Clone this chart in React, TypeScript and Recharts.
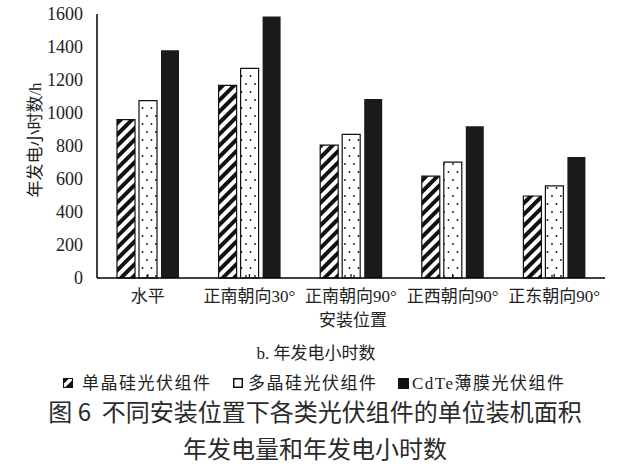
import React from 'react';
import { BarChart, Bar, XAxis, YAxis } from 'recharts';

const categories = ['水平', '正南朝向30°', '正南朝向90°', '正西朝向90°', '正东朝向90°'];
const monoSi = [960, 1168, 805, 617, 497];
const polySi = [1075, 1270, 870, 702, 558];
const cdte = [1380, 1585, 1085, 920, 733];
const yTicks = [0, 200, 400, 600, 800, 1000, 1200, 1400, 1600];

const seriesNames = ['单晶硅光伏组件', '多晶硅光伏组件', 'CdTe薄膜光伏组件'];

const data = categories.map((name, i) => ({
    name,
    mono: monoSi[i],
    poly: polySi[i],
    cdte: cdte[i],
}));

const serif = "'Liberation Serif', 'Noto Sans CJK SC', serif";
const sans = "'Noto Sans CJK SC', sans-serif";
const ink = '#222';

// own tick renderers so the serif face is really used
const XTick = (props: any) => {
    const { x, payload } = props;
    return (
        <text x={x} y={302} textAnchor="middle" fill={ink} fontSize={17} style={{ fontFamily: serif }}>
            {payload.value}
        </text>
    );
};

const YTick = (props: any) => {
    const { x, y, payload } = props;
    return (
        <text x={x} y={y + 6} textAnchor="end" fill={ink} fontSize={18} style={{ fontFamily: serif }}>
            {payload.value}
        </text>
    );
};

const LegendSwatch: React.FC<{ kind: number }> = ({ kind }) => {
    if (kind === 0) {
        return (
            <svg width={10} height={10} style={{ display: 'block' }}>
                <rect x={0.5} y={0.5} width={9} height={9} fill="#fff" stroke="#111" />
                <polygon points="2,9.5 9.5,2 9.5,9.5" fill="#111" />
                <polygon points="0.5,6 6,0.5 0.5,0.5" fill="#111" />
            </svg>
        );
    }
    if (kind === 1) {
        return (
            <svg width={10} height={10} style={{ display: 'block' }}>
                <rect x={0.75} y={0.75} width={8.5} height={8.5} fill="#fff" stroke="#111" strokeWidth={1.5} />
            </svg>
        );
    }
    return (
        <svg width={11} height={11} style={{ display: 'block' }}>
            <rect x={0} y={0} width={11} height={11} fill="#111" />
        </svg>
    );
};

const legendPos = [
    { sw: 63, txt: 82 },
    { sw: 233, txt: 248 },
    { sw: 398, txt: 412 },
];

const App: React.FC = () => {
    return (
        <div style={{ position: 'absolute', left: 0, top: 0, width: 635, height: 472, background: '#fff', color: ink, fontFamily: serif }}>
            <BarChart
                width={635}
                height={472}
                data={data}
                margin={{ top: 14, right: 30, left: 0, bottom: 164 }}
                barSize={18}
                barGap={4}
            >
                <defs>
                    <pattern id="hatch" patternUnits="userSpaceOnUse" width={8} height={8} patternTransform="rotate(45)">
                        <rect x={0} y={0} width={8} height={8} fill="#fff" />
                        <rect x={0} y={0} width={4} height={8} fill="#111" />
                    </pattern>
                    <pattern id="dots" patternUnits="userSpaceOnUse" width={9} height={16}>
                        <rect x={0} y={0} width={9} height={16} fill="#fff" />
                        <circle cx={3} cy={4} r={0.9} fill="#111" />
                        <circle cx={7.5} cy={12} r={0.9} fill="#111" />
                    </pattern>
                </defs>
                <XAxis
                    dataKey="name"
                    height={30}
                    axisLine={{ stroke: '#000', strokeWidth: 1.5 }}
                    tickLine={{ stroke: '#000', strokeWidth: 1.2 }}
                    tickSize={-4}
                    tickMargin={10}
                    interval={0}
                    tick={<XTick />}
                />
                <YAxis
                    width={97}
                    domain={[0, 1600]}
                    ticks={yTicks}
                    axisLine={{ stroke: '#000', strokeWidth: 1.5 }}
                    tickLine={false}
                    tickSize={0}
                    tickMargin={14}
                    tick={<YTick />}
                />
                <Bar dataKey="mono" fill="url(#hatch)" stroke="#111" strokeWidth={1.2} isAnimationActive={false} />
                <Bar dataKey="poly" fill="url(#dots)" stroke="#111" strokeWidth={1.2} isAnimationActive={false} />
                <Bar dataKey="cdte" fill="#1a1a1a" isAnimationActive={false} />
            </BarChart>

            {/* y axis title */}
            <div style={{
                position: 'absolute', left: 35, top: 140, transform: 'translate(-50%, -50%) rotate(-90deg)',
                whiteSpace: 'nowrap', fontSize: 17, lineHeight: 1, fontFamily: serif,
            }}>
                年发电小时数/h
            </div>

            {/* x axis title */}
            <div style={{
                position: 'absolute', left: 353, top: 320, transform: 'translate(-50%, -50%)',
                whiteSpace: 'nowrap', fontSize: 17, lineHeight: 1, fontFamily: serif,
            }}>
                安装位置
            </div>

            <div style={{
                position: 'absolute', left: 316, top: 353, transform: 'translate(-50%, -50%)',
                whiteSpace: 'nowrap', fontSize: 17, lineHeight: 1, fontFamily: serif,
            }}>
                b. 年发电小时数
            </div>

            {/* legend */}
            {seriesNames.map((s, i) => (
                <React.Fragment key={s}>
                    <div style={{ position: 'absolute', left: legendPos[i].sw, top: 378 }}>
                        <LegendSwatch kind={i} />
                    </div>
                    <div style={{
                        position: 'absolute', left: legendPos[i].txt, top: 383, transform: 'translateY(-50%)',
                        whiteSpace: 'nowrap', fontSize: 17, lineHeight: 1, letterSpacing: 1.5, fontFamily: serif,
                    }}>
                        {s}
                    </div>
                </React.Fragment>
            ))}

            {/* figure caption */}
            <div style={{
                position: 'absolute', left: 315, top: 411, transform: 'translate(-50%, -50%)',
                whiteSpace: 'nowrap', fontSize: 24, lineHeight: 1, fontFamily: sans, color: '#2a2a2a',
            }}>
                图 6&nbsp;&nbsp;不同安装位置下各类光伏组件的单位装机面积
            </div>
            <div style={{
                position: 'absolute', left: 315, top: 448, transform: 'translate(-50%, -50%)',
                whiteSpace: 'nowrap', fontSize: 24, lineHeight: 1, fontFamily: sans, color: '#2a2a2a',
            }}>
                年发电量和年发电小时数
            </div>
        </div>
    );
};

export default App;
